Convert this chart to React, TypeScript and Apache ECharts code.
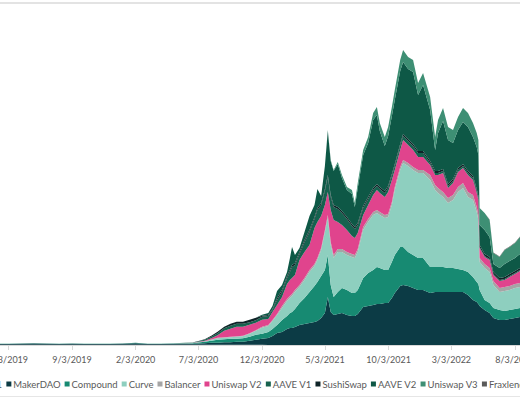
import React, { useEffect, useRef } from "react";
import * as echarts from "echarts";

const dates = [
  "2019-03-03","2019-04-03","2019-05-03","2019-06-03","2019-07-03","2019-08-03","2019-09-03","2019-10-03","2019-11-03","2019-12-03","2020-01-03","2020-02-03","2020-03-03","2020-04-03","2020-05-03",
  "2020-06-03","2020-06-18","2020-07-03","2020-07-18","2020-08-03","2020-08-18","2020-09-03","2020-09-18","2020-10-03","2020-10-18","2020-11-03","2020-11-18","2020-12-03",
  "2020-12-18","2020-12-28","2021-01-08","2021-01-20","2021-02-01","2021-02-08","2021-02-13","2021-02-20","2021-03-03","2021-03-15","2021-03-27","2021-04-08","2021-04-15","2021-04-24","2021-05-03","2021-05-10","2021-05-17","2021-05-24","2021-06-03",
  "2021-06-13","2021-06-25","2021-07-07","2021-07-14","2021-07-21","2021-08-03","2021-08-15","2021-08-27","2021-09-05","2021-09-12","2021-09-24","2021-10-02","2021-10-11","2021-10-18","2021-10-31","2021-11-07","2021-11-19","2021-12-01","2021-12-13","2021-12-25",
  "2022-01-11","2022-01-23","2022-01-30","2022-02-11","2022-02-23","2022-03-07","2022-03-19","2022-03-31","2022-04-12","2022-04-24","2022-05-03","2022-05-07","2022-05-10","2022-05-22","2022-06-03","2022-06-12","2022-06-27","2022-07-09","2022-07-21","2022-08-03","2022-08-15",
];

const tickDates = ["2019-04-03","2019-09-03","2020-02-03","2020-07-03","2020-12-03","2021-05-03","2021-10-03","2022-03-03","2022-08-03"];

const uniswapV1 = [
  0.03,0.03,0.03,0.03,0.03,0.03,0.03,0.03,0.03,0.03,0.03,0.03,0.03,0.03,0.03,
  0.03,0.03,0.03,0.03,0.03,0.03,0.03,0.03,0.03,0.03,0.03,0.03,0.03,
  0.02,0.02,0.02,0.02,0.02,0.02,0.02,0.02,0.02,0.02,0.02,0.02,0.02,0.02,0.02,0.02,0.02,0.02,0.02,
  0.02,0.02,0.02,0.02,0.02,0.02,0.02,0.02,0.02,0.02,0.02,0.02,0.02,0.02,0.02,0.02,0.02,0.02,0.02,0.02,
  0.02,0.02,0.02,0.02,0.02,0.02,0.02,0.02,0.02,0.02,0.02,0.02,0.02,0.02,0.02,0.02,0.02,0.02,0.02,0.02,0.02,
];
const makerDAO = [
  0.15,0.15,0.2,0.25,0.2,0.15,0.2,0.15,0.15,0.15,0.2,0.3,0.15,0.15,0.2,
  0.2,0.2,0.25,0.3,0.4,0.4,0.5,0.5,0.6,0.6,0.8,1.0,1.2,
  1.4,1.8,2.4,2.6,3.2,3.4,3.4,3.6,4.0,4.2,4.4,4.6,4.8,5.4,6.4,9.6,6.6,6.0,6.2,
  6.4,6.0,5.8,5.8,6.2,7.6,7.8,8.0,8.2,8.2,8.4,8.4,9.4,10.4,11.8,12.0,11.8,11.4,11.0,11.0,
  10.4,10.6,10.6,10.6,10.6,10.6,10.6,10.6,10.0,9.0,8.6,8.2,7.8,7.0,6.4,5.4,5.0,5.0,5.2,5.4,5.6,
];
const compound = [
  0.05,0.05,0.05,0.05,0.05,0.05,0.05,0.05,0.05,0.05,0.05,0.1,0.05,0.05,0.08,
  0.1,0.14,0.2,0.3,0.4,0.6,0.6,0.7,0.6,0.7,0.8,1.0,1.0,
  1.2,1.4,1.6,2.4,2.6,3.0,3.2,3.6,4.4,5.2,6.2,7.2,7.8,8.4,8.6,8.4,5.4,3.6,4.4,
  5.0,5.0,4.6,4.6,4.8,5.8,6.6,7.0,7.4,7.2,6.6,6.6,7.2,7.6,7.8,7.6,6.8,6.6,6.4,6.4,
  5.2,5.0,5.0,5.0,4.8,4.8,4.6,4.4,4.6,4.6,4.0,4.0,3.2,2.0,2.0,2.0,2.0,1.8,1.8,1.8,1.8,
];
const curve = [
  0,0,0,0,0,0,0,0,0,0,0,0.02,0.02,0.02,0.03,
  0.04,0.04,0.08,0.1,0.2,0.3,0.3,0.3,0.4,0.4,0.6,0.8,1.2,
  1.2,1.6,2.0,2.4,3.0,3.0,3.2,3.4,3.2,3.6,4.0,4.0,4.4,5.2,7.6,7.4,8.0,7.8,8.0,
  7.2,7.0,7.2,7.0,7.6,9.6,10.2,11.0,10.8,10.6,10.4,10.6,11.4,13.0,15.4,16.8,17.2,17.0,17.0,17.0,
  17.4,15.4,14.8,14.0,13.0,13.6,15.4,16.4,15.0,15.4,14.0,12.8,5.6,6.4,6.2,4.6,3.6,4.0,4.0,4.2,4.2,
];
const balancer = [
  0,0,0,0,0,0,0,0,0,0,0,0.02,0,0,0,
  0.02,0.02,0.02,0.04,0.06,0.1,0.1,0.1,0.1,0.1,0.1,0.1,0.2,
  0.2,0.2,0.2,0.4,0.4,0.4,0.4,0.4,0.4,0.4,0.4,0.4,0.4,0.4,0.4,0.6,0.6,0.6,0.6,
  0.6,0.6,0.6,0.6,0.6,0.6,0.6,0.6,0.6,0.6,0.6,0.6,0.6,0.6,0.6,0.6,0.6,0.6,0.6,0.6,
  1.0,1.0,1.0,1.0,1.0,1.0,1.0,1.0,1.0,1.0,1.0,1.0,0.8,0.8,0.8,0.8,0.8,0.8,0.8,0.8,0.8,
];
const uniswapV2 = [
  0,0,0,0,0,0,0,0,0,0,0,0,0,0,0.02,
  0.03,0.02,0.06,0.1,0.24,0.5,1.3,1.6,1.9,1.8,1.7,1.5,1.4,
  1.2,1.6,1.8,1.8,3.0,3.2,3.2,3.0,5.0,5.2,5.0,7.2,7.2,6.4,5.0,4.6,6.4,7.0,5.4,
  4.8,4.4,3.6,3.4,3.2,2.4,2.8,3.4,4.0,3.8,3.6,4.4,4.4,3.4,3.4,4.0,3.6,3.4,2.6,2.6,
  2.0,2.0,2.6,3.8,2.0,2.4,3.0,3.0,3.4,3.0,2.8,3.0,2.0,1.4,1.6,1.2,1.4,1.4,1.8,2.0,2.4,
];
const aaveV1 = [
  0,0,0,0,0,0,0,0,0,0,0,0,0,0,0,
  0.02,0.04,0.1,0.16,0.3,0.4,0.5,0.6,0.6,0.6,0.5,0.5,0.6,
  0.6,0.4,1.0,1.0,1.2,1.6,2.2,2.0,1.2,2.0,2.6,1.8,2.4,2.2,2.8,3.0,2.6,2.6,2.6,
  2.4,2.2,2.0,1.8,1.6,1.4,1.2,1.0,0.8,0.8,0.8,0.8,0.8,0.8,0.8,0.8,0.8,0.8,0.8,0.8,
  0.4,0.4,0.4,0.4,0.4,0.4,0.4,0.4,0.4,0.4,0.4,0.4,0.2,0.2,0.2,0.2,0.2,0.2,0.2,0.2,0.2,
];
const sushiSwap = [
  0,0,0,0,0,0,0,0,0,0,0,0,0,0,0,
  0,0,0.04,0.1,0.2,0.3,0.3,0.4,0.4,0.4,0.5,0.5,0.2,
  0.2,0.2,0.4,0.4,0.4,0.4,0.4,0.4,0.4,0.4,0.4,0.4,0.4,0.4,0.4,0.4,0.4,0.4,0.4,
  0.4,0.4,0.4,0.4,0.4,0.4,0.4,0.4,0.4,0.4,0.4,0.4,0.4,0.4,0.4,0.4,0.4,0.4,0.4,0.4,
  0.4,0.4,0.4,0.4,0.4,0.4,0.4,0.4,0.4,0.4,0.4,0.4,0.4,0.4,0.4,0.4,0.4,0.4,0.4,0.4,0.4,
];
const aaveV2 = [
  0,0,0,0,0,0,0,0,0,0,0,0,0,0,0,
  0,0,0,0,0,0,0,0,0,0,0,0,0.2,
  0.4,0.6,1.4,1.0,0.8,2.4,3.6,1.6,0.8,1.6,2.8,2.4,3.8,1.4,4.6,8.8,6.8,6.8,8.6,
  6.6,5.4,6.0,4.0,7.0,10.2,10.8,13.6,13.8,11.2,9.0,10.0,11.6,12.8,14.6,14.4,14.0,14.4,11.2,13.2,
  10.2,4.2,7.6,9.6,8.8,7.2,7.6,8.4,8.8,7.8,8.4,8.2,4.0,4.8,4.0,1.6,2.0,2.6,2.6,2.6,2.8,
];
const uniswapV3 = [
  0,0,0,0,0,0,0,0,0,0,0,0,0,0,0,
  0,0,0,0,0,0,0,0,0,0,0,0,0,
  0,0,0,0,0,0,0,0,0,0,0,0,0,0,0,0.2,0.2,0.2,0.4,
  0.6,0.6,0.8,0.8,1.0,1.0,1.2,1.4,1.6,1.6,1.8,1.8,1.8,2.0,2.2,2.4,2.4,2.4,2.4,2.4,
  2.6,2.6,2.6,2.6,2.6,2.6,2.6,2.8,2.8,2.8,2.8,3.0,3.4,3.4,3.4,2.2,2.2,2.8,2.8,3.0,3.4,
];
const fraxlend = [
  0,0,0,0,0,0,0,0,0,0,0,0,0,0,0,
  0,0,0,0,0,0,0,0,0,0,0,0,0,
  0,0,0,0,0,0,0,0,0,0,0,0,0,0,0,0,0,0,0,
  0,0,0,0,0,0,0,0,0,0,0,0,0,0,0,0,0,0,0,0,
  0,0,0,0,0,0,0,0,0,0,0,0,0,0,0.1,0.1,0.1,0.1,0.1,0.1,0.1,
];

const seriesDefs = [
  { name: "Uniswap V1", data: uniswapV1, color: "#2f5560" },
  { name: "MakerDAO", data: makerDAO, color: "#0c3b45" },
  { name: "Compound", data: compound, color: "#178a72" },
  { name: "Curve", data: curve, color: "#8ecfbf" },
  { name: "Balancer", data: balancer, color: "#a5a5a5" },
  { name: "Uniswap V2", data: uniswapV2, color: "#e0448d" },
  { name: "AAVE V1", data: aaveV1, color: "#16624f" },
  { name: "SushiSwap", data: sushiSwap, color: "#0f2428" },
  { name: "AAVE V2", data: aaveV2, color: "#0e5846" },
  { name: "Uniswap V3", data: uniswapV3, color: "#3e8f74" },
  { name: "Fraxlend", data: fraxlend, color: "#5a5a5a" },
];

function ts(s: string): number {
  const [y, m, d] = s.split("-").map(Number);
  return Date.UTC(y, m - 1, d);
}

export default function App() {
  const ref = useRef<HTMLDivElement>(null);
  useEffect(() => {
    if (!ref.current) return;
    const chart = echarts.init(ref.current, undefined, { renderer: "svg" });
    const font = "Lato, 'Liberation Sans', sans-serif";
    const tickTs = tickDates.map(ts);
    const xMin = ts("2019-03-14");
    const xMax = ts("2022-08-15");
    chart.setOption({
      animation: false,
      backgroundColor: "#ffffff",
      grid: { left: 0, right: 0, top: 45, bottom: 55, containLabel: false, outerBoundsMode: "none" },
      legend: {
        data: seriesDefs.map((s) => s.name),
        left: -60,
        top: 374,
        width: 900,
        orient: "horizontal",
        icon: "rect",
        itemWidth: 5,
        itemHeight: 5,
        itemGap: 4,
        textStyle: { color: "#595959", fontSize: 9.5, fontFamily: font, padding: [0, 0, 0, -3] },
      },
      xAxis: [
        { type: "time", min: xMin, max: xMax, show: false },
        {
          type: "value",
          min: xMin,
          max: xMax,
          position: "bottom",
          axisLine: { show: true, onZero: false, lineStyle: { color: "#d9d9d9", width: 1 } },
          axisTick: { show: true, customValues: tickTs, length: 5, lineStyle: { color: "#d9d9d9" } },
          axisLabel: {
            customValues: tickTs,
            color: "#595959",
            fontSize: 9,
            fontFamily: font,
            margin: 10,
            hideOverlap: false,
            formatter: (v: number) => {
              const d = new Date(v);
              return `${d.getUTCMonth() + 1}/${d.getUTCDate()}/${d.getUTCFullYear()}`;
            },
          },
          splitLine: { show: false },
        },
      ],
      yAxis: { type: "value", min: 0, max: 60, show: false, splitLine: { show: false } },
      graphic: [
        { type: "rect", left: 0, top: 2, shape: { width: 520, height: 2 }, style: { fill: "#e3e3e3" }, silent: true },
        { type: "rect", left: 0, top: 396, shape: { width: 520, height: 1 }, style: { fill: "#e6e6e6" }, silent: true },
      ],
      series: seriesDefs.map((s) => ({
        name: s.name,
        type: "line",
        xAxisIndex: 0,
        stack: "total",
        symbol: "none",
        showSymbol: false,
        lineStyle: { width: 0 },
        itemStyle: { color: s.color },
        areaStyle: { color: s.color, opacity: 1 },
        data: dates.map((d, i) => [ts(d), s.data[i]]),
      })),
    });
    return () => chart.dispose();
  }, []);
  return (
    <div
      ref={ref}
      style={{ position: "fixed", left: 0, top: 0, width: 520, height: 400, overflow: "hidden", background: "#fff" }}
    />
  );
}
